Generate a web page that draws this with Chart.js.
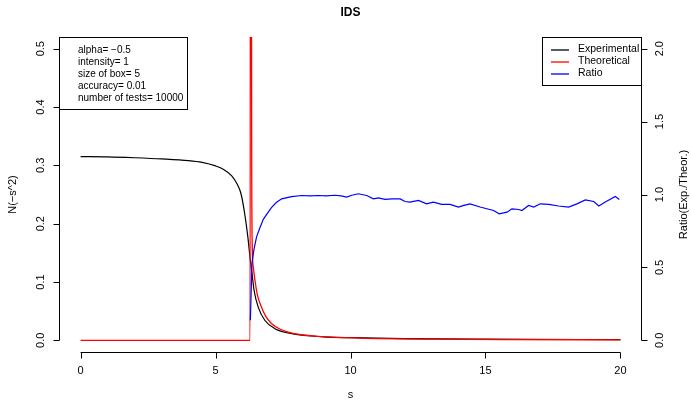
<!DOCTYPE html>
<html>
<head>
<meta charset="utf-8">
<script src="https://cdn.jsdelivr.net/npm/chart.js@4"></script>
<style>
  body { margin: 0; background: #fff; }
  canvas { display: block; }
</style>
</head>
<body>
<canvas id="idsChart" width="691" height="406"></canvas>
<script>
// values
const sExp = [0, 1, 2, 3, 4, 4.5, 5, 5.3, 5.6, 5.8, 5.95, 6.08, 6.2, 6.27, 6.35, 6.43, 6.58, 6.83, 7.2, 7.87, 9, 10, 12, 15, 20];
const nExp = [0.315, 0.3145, 0.313, 0.311, 0.308, 0.305, 0.299, 0.293, 0.282, 0.268, 0.25, 0.217, 0.176, 0.145, 0.115, 0.085, 0.057, 0.034, 0.02, 0.011, 0.006, 0.0045, 0.003, 0.002, 0.0012];

const sTheor = [0, 6.28, 6.3, 6.34, 6.36, 6.4, 6.46, 6.55, 6.7, 6.85, 7.07, 7.4, 7.87, 8.5, 9.5, 11, 13, 16, 20];
const nTheor = [0, 0, 1.5, 0.3, 0.16, 0.125, 0.103, 0.078, 0.057, 0.042, 0.029, 0.019, 0.012, 0.008, 0.005, 0.003, 0.002, 0.0013, 0.0008];

const sRatio = [6.29, 6.35, 6.42, 6.52, 6.64, 6.77, 6.92, 7.07, 7.25, 7.45, 7.82, 8.19, 8.5, 8.8, 9.1, 9.42, 9.65, 9.86, 10.05, 10.29, 10.6, 10.85, 11.03, 11.28, 11.53, 11.84, 12.02, 12.2, 12.52, 12.82, 13.07, 13.38, 13.69, 14.0, 14.2, 14.43, 14.8, 15.05, 15.3, 15.51, 15.8, 15.98, 16.23, 16.35, 16.6, 16.79, 17.03, 17.34, 17.71, 18.08, 18.39, 18.7, 19.01, 19.2, 19.44, 19.81, 19.96];
const ratio = [0.137, 0.53, 0.62, 0.71, 0.77, 0.83, 0.87, 0.91, 0.945, 0.97, 0.986, 0.993, 0.99, 0.993, 0.99, 0.995, 0.99, 0.982, 0.995, 1.005, 0.993, 0.97, 0.977, 0.966, 0.97, 0.97, 0.952, 0.948, 0.959, 0.936, 0.948, 0.932, 0.932, 0.914, 0.925, 0.936, 0.914, 0.902, 0.89, 0.868, 0.879, 0.902, 0.897, 0.89, 0.925, 0.914, 0.936, 0.932, 0.921, 0.914, 0.936, 0.963, 0.952, 0.921, 0.948, 0.986, 0.966];

const xTicks = [0, 5, 10, 15, 20];
const yTicks = [0, 0.1, 0.2, 0.3, 0.4, 0.5];
const y2Ticks = [0, 0.5, 1, 1.5, 2];
const yTickLabels = ['0.0', '0.1', '0.2', '0.3', '0.4', '0.5'];
const y2TickLabels = ['0.0', '0.5', '1.0', '1.5', '2.0'];

const infoLines = ['alpha= \u22120.5', 'intensity= 1', 'size of box= 5', 'accuracy= 0.01', 'number of tests= 10000'];
const legendNames = ['Experimental', 'Theoretical', 'Ratio'];
const legendColors = ['#000000', '#ff0000', '#0000ff'];

function pairs(xs, ys) {
  return xs.map((x, i) => ({ x: x, y: ys[i] }));
}

const FONT = '"Liberation Sans", Arial, sans-serif';

// R style axes, legends and titles
const rAxes = {
  id: 'rAxes',
  afterDraw(chart) {
    const ctx = chart.ctx;
    const area = chart.chartArea;
    const xs = chart.scales.x, ys = chart.scales.y, y2 = chart.scales.y2;
    ctx.save();
    ctx.strokeStyle = '#000';
    ctx.fillStyle = '#000';
    ctx.lineWidth = 1;
    ctx.font = '11px ' + FONT;

    // bottom axis
    const by = Math.round(area.bottom) + 0.5;
    ctx.beginPath();
    ctx.moveTo(xs.getPixelForValue(xTicks[0]), by);
    ctx.lineTo(xs.getPixelForValue(xTicks[xTicks.length - 1]), by);
    xTicks.forEach(t => {
      const px = Math.round(xs.getPixelForValue(t)) + 0.5;
      ctx.moveTo(px, by);
      ctx.lineTo(px, by + 6);
    });
    ctx.stroke();
    ctx.textAlign = 'center';
    ctx.textBaseline = 'middle';
    xTicks.forEach(t => ctx.fillText(String(t), xs.getPixelForValue(t), 371));
    ctx.fillText('s', (xs.getPixelForValue(0) + xs.getPixelForValue(20)) / 2, 395);

    // left axis
    const lx = Math.round(area.left) + 0.5;
    ctx.beginPath();
    ctx.moveTo(lx, ys.getPixelForValue(yTicks[0]));
    ctx.lineTo(lx, ys.getPixelForValue(yTicks[yTicks.length - 1]));
    yTicks.forEach(t => {
      const py = Math.round(ys.getPixelForValue(t)) + 0.5;
      ctx.moveTo(lx, py);
      ctx.lineTo(lx - 6, py);
    });
    ctx.stroke();
    yTicks.forEach((t, i) => {
      ctx.save();
      ctx.translate(41, ys.getPixelForValue(t));
      ctx.rotate(-Math.PI / 2);
      ctx.fillText(yTickLabels[i], 0, 0);
      ctx.restore();
    });
    ctx.save();
    ctx.translate(13, (area.top + area.bottom) / 2);
    ctx.rotate(-Math.PI / 2);
    ctx.fillText('N(\u2212s^2)', 0, 0);
    ctx.restore();

    // right axis
    const rx = Math.round(area.right) - 0.5;
    ctx.beginPath();
    ctx.moveTo(rx, y2.getPixelForValue(y2Ticks[0]));
    ctx.lineTo(rx, y2.getPixelForValue(y2Ticks[y2Ticks.length - 1]));
    y2Ticks.forEach(t => {
      const py = Math.round(y2.getPixelForValue(t)) + 0.5;
      ctx.moveTo(rx, py);
      ctx.lineTo(rx + 6, py);
    });
    ctx.stroke();
    y2Ticks.forEach((t, i) => {
      ctx.save();
      ctx.translate(660, y2.getPixelForValue(t));
      ctx.rotate(-Math.PI / 2);
      ctx.fillText(y2TickLabels[i], 0, 0);
      ctx.restore();
    });
    ctx.save();
    ctx.translate(684, (area.top + area.bottom) / 2);
    ctx.rotate(-Math.PI / 2);
    ctx.fillText('Ratio(Exp./Theor.)', 0, 0);
    ctx.restore();

    // title
    ctx.font = 'bold 12px ' + FONT;
    ctx.fillText('IDS', (area.left + area.right) / 2, 13);

    // info box top left
    ctx.font = '10px ' + FONT;
    ctx.fillStyle = '#fff';
    ctx.fillRect(lx, Math.round(area.top) + 0.5, 128, 72);
    ctx.strokeRect(lx, Math.round(area.top) + 0.5, 128, 72);
    ctx.fillStyle = '#000';
    ctx.textAlign = 'left';
    infoLines.forEach((txt, i) => ctx.fillText(txt, 78, 50 + i * 12));

    // legend top right
    ctx.font = '10.5px ' + FONT;
    const lgx = 542.5, lgy = Math.round(area.top) + 0.5;
    ctx.fillStyle = '#fff';
    ctx.fillRect(lgx, lgy, rx - lgx, 48);
    ctx.strokeRect(lgx, lgy, rx - lgx, 48);
    ctx.fillStyle = '#000';
    legendNames.forEach((name, i) => ctx.fillText(name, 578, 49.5 + i * 12));
    ctx.lineWidth = 1.3;
    legendColors.forEach((col, i) => {
      ctx.strokeStyle = col;
      ctx.beginPath();
      ctx.moveTo(551, 50 + i * 12);
      ctx.lineTo(569, 50 + i * 12);
      ctx.stroke();
    });
    ctx.restore();
  }
};

new Chart(document.getElementById('idsChart'), {
  type: 'line',
  data: {
    datasets: [
      {
        label: 'Experimental',
        data: pairs(sExp, nExp),
        borderColor: '#000000',
        borderWidth: 1.2,
        pointRadius: 0,
        cubicInterpolationMode: 'monotone',
        yAxisID: 'y',
        order: 3
      },
      {
        label: 'Theoretical',
        data: pairs(sTheor, nTheor),
        borderColor: '#ff0000',
        borderWidth: 1.3,
        pointRadius: 0,
        cubicInterpolationMode: 'monotone',
        yAxisID: 'y',
        order: 2
      },
      {
        label: 'Ratio',
        data: pairs(sRatio, ratio),
        borderColor: '#0000ff',
        borderWidth: 1.2,
        pointRadius: 0,
        yAxisID: 'y2',
        order: 1
      }
    ]
  },
  options: {
    responsive: false,
    animation: false,
    devicePixelRatio: 1,
    layout: { padding: { left: 59, right: 49, top: 37, bottom: 54 } },
    plugins: {
      legend: { display: false },
      tooltip: { enabled: false }
    },
    scales: {
      x: { type: 'linear', min: -0.8, max: 20.8, display: false },
      y: { type: 'linear', min: -0.02, max: 0.52, display: false },
      y2: { type: 'linear', position: 'right', min: -0.08, max: 2.08, display: false }
    }
  },
  plugins: [rAxes]
});
</script>
</body>
</html>
